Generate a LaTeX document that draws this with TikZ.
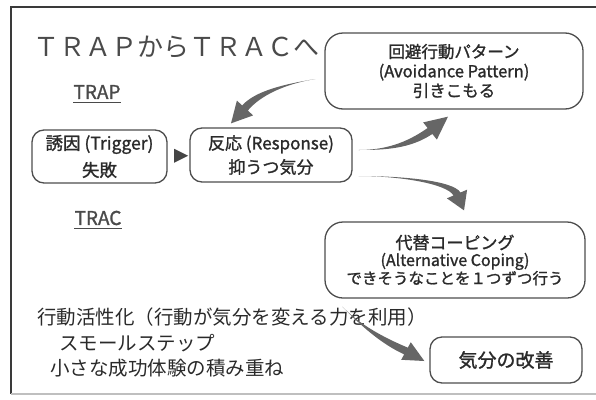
\documentclass[tikz,border=0pt]{standalone}
\usepackage{fontspec}
\setmainfont{Noto Sans CJK JP}
\newfontfamily\jpb[FakeBold=1.3]{Noto Sans CJK JP}
\usetikzlibrary{shapes.geometric,calc,arrows.meta}
\definecolor{txt}{HTML}{2A2A2A}
\definecolor{edge}{HTML}{4D4D4D}
\definecolor{arrowgray}{HTML}{666666}
\definecolor{framec}{HTML}{3A3A3A}
\definecolor{lbl}{HTML}{4A4A4A}
\newcommand\swooshfill[6]{%
  \fill[arrowgray] (#1) .. controls (#2) and ($(#3)!3.5pt!90:(#4)$) .. ($(#4)!3.8pt!90:(#5)$)
    -- ($(#4)!#6!90:(#5)$) -- (#5) -- ($(#4)!#6!-90:(#5)$)
    -- ($(#4)!3.8pt!-90:(#5)$) .. controls ($(#3)!3.5pt!-90:(#4)$) and (#2) .. (#1) -- cycle;}
\tikzset{
  box/.style={draw=edge, line width=1.3pt, text=txt, align=center, inner sep=0pt},
  smallbox/.style={box, rounded corners=12pt},
  bigbox/.style={box, rounded corners=18pt},
  lefttext/.style={anchor=west, text=txt, inner sep=0pt},
  tracklabel/.style={text=lbl, inner sep=0pt, font=\jpb\fontsize{19}{19}\selectfont},
}
\begin{document}
\begin{tikzpicture}[x=1pt,y=-1pt]
\useasboundingbox (0,0) rectangle (596,399);
% frame
\draw[framec, line width=1.4pt] (596,7) -- (11,7) -- (11,394);
\draw[black!25, line width=1.2pt] (11,394) -- (596,394);
% title
\node[anchor=west, text=lbl, inner sep=0pt, font=\fontsize{26}{26}\selectfont] (title) at (33,47) {ＴＲＡＰからＴＲＡＣへ};
% labels
\node[tracklabel] (trap) at (97,92) {TRAP};
\draw[lbl, line width=1pt] ([yshift=-3pt]trap.south west) -- ([yshift=-3pt]trap.south east);
\node[tracklabel] (trac) at (98,218) {TRAC};
\draw[lbl, line width=1pt] ([yshift=-3pt]trac.south west) -- ([yshift=-3pt]trac.south east);
% boxes
\node[smallbox, minimum width=135pt, minimum height=53pt, font=\jpb\fontsize{17.5}{27}\selectfont] (trig) at (99.5,156.5) {誘因 (Trigger)\\失敗};
\node[smallbox, minimum width=162pt, minimum height=54pt, font=\jpb\fontsize{17}{24}\selectfont] (resp) at (271,155) {反応 (Response)\\抑うつ気分};
\node[bigbox, minimum width=258pt, minimum height=76pt, font=\jpb\fontsize{16.5}{19.5}\selectfont] (avoid) at (454,71) {回避行動パターン\\(Avoidance Pattern)\\引きこもる};
\node[bigbox, minimum width=260pt, minimum height=76pt, font=\jpb\fontsize{16}{17}\selectfont] (alt) at (455,260) {{\fontsize{17}{17}\selectfont 代替コーピング}\\(Alternative Coping)\\{\fontsize{15.5}{17}\selectfont できそうなことを１つずつ行う}};
\node[smallbox, minimum width=152pt, minimum height=46pt, font=\jpb\fontsize{19}{19}\selectfont] (mood) at (506,360) {気分の改善};
% small triangle between trigger and response
\path (trig.east) -- node[isosceles triangle, isosceles triangle stretches, fill=edge!90!black, minimum width=14pt, minimum height=14pt, inner sep=0pt, shape border rotate=0] (tri) {} (resp.west);
% left texts
\node[lefttext, font=\fontsize{19.5}{19.5}\selectfont] (l1) at (37,317) {行動活性化（行動が気分を変える力を利用）};
\node[lefttext, font=\fontsize{19.5}{19.5}\selectfont] (l2) at (59,343) {スモールステップ};
\node[lefttext, font=\fontsize{19.5}{19.5}\selectfont] (l3) at (50,368) {小さな成功体験の積み重ね};
% arrow end points
\coordinate (a1t) at ($(avoid.west)+(-9,8)$);
\coordinate (a1b) at (245,108);
\coordinate (a1p) at ($(resp.north)+(-40,-4)$);
\coordinate (a2t) at ($(resp.east)+(6,-5)$);
\coordinate (a2b) at (430,131);
\coordinate (a2p) at ($(avoid.south)+(-6,7)$);
\coordinate (a3t) at ($(resp.east)+(6,21)$);
\coordinate (a3b) at (457,194);
\coordinate (a3p) at ($(alt.north)+(9,-11)$);
\coordinate (a4t) at ($(alt.south west)+(18,8)$);
\coordinate (a4b) at (406,351);
\coordinate (a4p) at ($(mood.west)+(-5,1)$);
\swooshfill{a1t}{285,84}{258,93}{a1b}{a1p}{11pt}
\swooshfill{a2t}{385,150}{408,146}{a2b}{a2p}{11pt}
\swooshfill{a3t}{400,176}{450,182}{a3b}{a3p}{11pt}
\swooshfill{a4t}{360,325}{383,341}{a4b}{a4p}{10pt}
\end{tikzpicture}
\end{document}
